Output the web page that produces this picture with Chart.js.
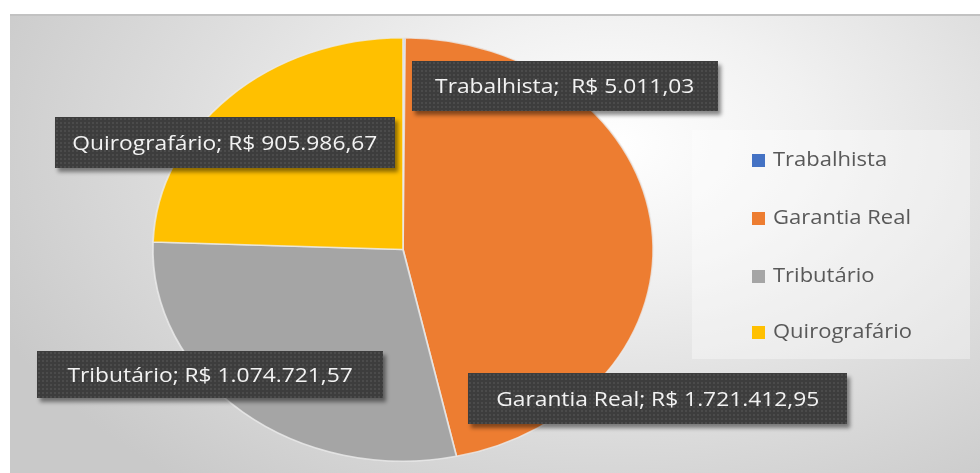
<!DOCTYPE html>
<html>
<head>
<meta charset="utf-8">
<script src="https://cdn.jsdelivr.net/npm/chart.js@4"></script>
<style>
  html, body { margin: 0; padding: 0; background: #fff; }
  body { width: 980px; height: 473px; position: relative; overflow: hidden; font-family: "Open Sans", sans-serif; }
  #frame {
    position: absolute; left: 10px; top: 14px; width: 970px; height: 459px;
    border-top: 2px solid #c2c2c2; box-sizing: border-box;
    background: radial-gradient(ellipse 70% 95% at 62% 28%, #ffffff 0%, #f1f1f1 30%, #dedede 62%, #c9c9c9 100%);
  }
  #pie { position: absolute; left: 0; top: -2px; }
  .lbl {
    position: absolute; box-sizing: border-box; color: #f2f2f2; font-size: 20px;
    text-align: center; white-space: pre;
    background-color: #3d3d3d;
    background-image: radial-gradient(circle, #4b4b4b 0.8px, transparent 1.2px);
    background-size: 4px 4px;
    box-shadow: 3px 4px 4px rgba(0,0,0,0.45);
  }
  .lbl span { display: inline-block; transform: scaleX(1.14); }
  #legend {
    position: absolute; left: 682px; top: 114px; width: 278px; height: 229px;
    background: rgba(255,255,255,0.35);
  }
  .leg { position: absolute; left: 60px; height: 30px; line-height: 30px; font-size: 20px; color: #595959; white-space: nowrap; }
  .leg i { display: inline-block; width: 13px; height: 13px; margin-right: 8px; vertical-align: -1px; }
  .leg span { display: inline-block; transform: scaleX(1.1); transform-origin: left center; }
</style>
</head>
<body>
<div id="frame">
  <canvas id="pie" width="970" height="459"></canvas>
  <div id="legend"></div>
</div>
<script>
// dados
const categorias = ['Trabalhista', 'Garantia Real', 'Tributário', 'Quirografário'];
const valores = [5011.03, 1721412.95, 1074721.57, 905986.67];
const cores = ['#4472C4', '#ED7D31', '#A5A5A5', '#FFC000'];

// posição das caixas de rótulo (left, top, largura, altura) no quadro
const caixas = [
  [402, 45, 306, 50],
  [458, 357, 379, 51],
  [27, 335, 346, 47],
  [45, 101, 340, 51]
];
// centro das linhas da legenda (y no quadro)
const legendaY = [29, 87, 145, 201];

const fmt = (v) => 'R$ ' + v.toLocaleString('pt-BR', { minimumFractionDigits: 2, maximumFractionDigits: 2 });

// pizza achatada: raio vertical 212.5, horizontal 251
const escalaX = 251 / 212.5;
const elipse = {
  id: 'elipse',
  beforeDatasetsDraw(chart) {
    const arc = chart.getDatasetMeta(0).data[0];
    const ctx = chart.ctx;
    ctx.save();
    ctx.translate(arc.x, arc.y);
    ctx.scale(escalaX, 1);
    ctx.translate(-arc.x, -arc.y);
  },
  afterDatasetsDraw(chart) {
    chart.ctx.restore();
  }
};

const ctx = document.getElementById('pie').getContext('2d');
const chart = new Chart(ctx, {
  type: 'pie',
  data: {
    labels: categorias,
    datasets: [{
      data: valores,
      backgroundColor: cores,
      borderColor: 'rgba(235,235,235,0.8)',
      borderWidth: 1.5
    }]
  },
  options: {
    responsive: false,
    animation: false,
    devicePixelRatio: 1,
    layout: { padding: { left: 180, right: 364, top: 23, bottom: 11 } },
    plugins: {
      legend: { display: false },
      tooltip: { enabled: false }
    }
  },
  plugins: [elipse]
});

// rótulos de dados
const frame = document.getElementById('frame');
categorias.forEach((c, i) => {
  const d = document.createElement('div');
  d.className = 'lbl';
  const [l, t, w, h] = caixas[i];
  d.style.left = l + 'px';
  d.style.top = t + 'px';
  d.style.width = w + 'px';
  d.style.height = h + 'px';
  d.style.lineHeight = h + 'px';
  const s = document.createElement('span');
  s.textContent = c + (i === 0 ? ';  ' : '; ') + fmt(valores[i]);
  d.appendChild(s);
  frame.appendChild(d);
});

// legenda
const legend = document.getElementById('legend');
categorias.forEach((c, i) => {
  const row = document.createElement('div');
  row.className = 'leg';
  row.style.top = (legendaY[i] - 15) + 'px';
  row.innerHTML = '<i style="background:' + cores[i] + '"></i><span>' + c + '</span>';
  legend.appendChild(row);
});
</script>
</body>
</html>
